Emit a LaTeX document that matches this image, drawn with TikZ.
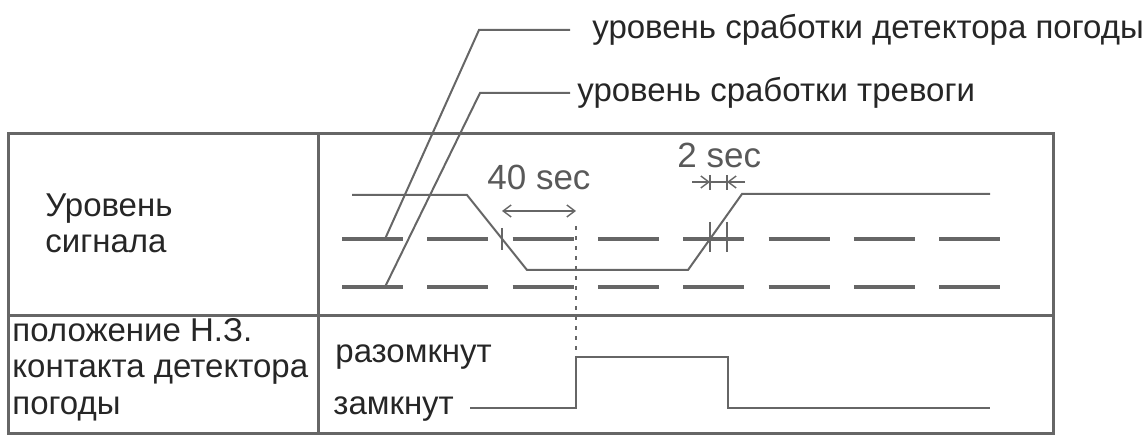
\documentclass[tikz,border=0pt]{standalone}
\usepackage{fontspec}
\setmainfont{Liberation Sans}
\usetikzlibrary{arrows.meta}

\begin{document}
\begin{tikzpicture}[x=0.5pt, y=-0.5pt,
    >={Straight Barb[length=4pt,width=6pt]},
    txt/.style={font=\fontsize{16.5}{19}\selectfont, text=black!85, inner sep=0pt, anchor=base west},
    sectxt/.style={font=\fontsize{17.5}{20}\selectfont, text=black!65, inner sep=0pt, anchor=base west},
    frame/.style={draw=black!60, line width=1.5pt},
    sig/.style={draw=black!60, line width=1pt, line join=miter},
    lvl/.style={draw=black!60, line width=2.2pt},
    tickln/.style={draw=black!60, line width=0.7pt},
    dotln/.style={draw=black!60, line width=0.8pt, dash pattern=on 2pt off 3pt},
    dimarr/.style={draw=black!60, line width=0.7pt}]

\useasboundingbox (0,0) rectangle (1142,437);

% --- Tabella ---
\draw[frame] (8,134) rectangle (1053,434);
\draw[frame] (8,316) -- (1053,316);
\draw[frame] (318,134) -- (318,434);

% --- Etichette dei livelli (in alto) ---
\node[txt, anchor=west] (lvlwd) at (592,30) {уровень сработки детектора погоды};
\node[txt, anchor=west] (lvlal) at (577,93) {уровень сработки тревоги};
\coordinate (wdend) at (385,239);
\coordinate (alend) at (385,287);
\draw[sig] ([xshift=-11pt]lvlwd.west) -- ++(-91,0) -- (wdend);
\draw[sig] ([xshift=-3.5pt]lvlal.west) -- ++(-90,0) -- (alend);

% --- Colonna sinistra ---
\node[txt] (sig1) at (45,217) {Уровень};
\node[txt] (sig2) at (45,253) {сигнала};
\node[txt] (pos1) at (12,342) {положение Н.З.};
\node[txt] (pos2) at (12,378) {контакта детектора};
\node[txt] (pos3) at (12,415) {погоды};

% --- Livelli tratteggiati ---
\foreach \i in {0,...,7} {
    \draw[lvl] (342+85.3*\i,239) -- ++(61,0);
    \draw[lvl] (342+85.3*\i,287) -- ++(61,0);
}

% Segnale
\draw[sig] (352,195) -- (467,195) -- (527,270) -- (688,270) -- (742,194) -- (990,194);

% Tacche
\draw[tickln] (502,228) -- (502,250);
\foreach \x in {710,727} {
    \draw[tickln] (\x,222) -- (\x,252);
    \draw[tickln] (\x,175) -- (\x,190);
}
\draw[dotln] (576,226) -- (576,357);

% --- Tempi ---
\node[sectxt] (t40) at (487,190) {40 sec};
\node[sectxt] (t2) at (677,168) {2 sec};
\coordinate (t40a) at (502,211);
\coordinate (t40b) at (576,211);
\draw[dimarr, <->] (t40a) -- (t40b);
\coordinate (t2a) at (710,182);
\coordinate (t2b) at (727,182);
\draw[dimarr, ->] (692,182) -- (t2a);
\draw[dimarr] (t2a) -- (t2b);
\draw[dimarr, ->] (745,182) -- (t2b);

% --- Contatto ---
\node[txt] (open) at (335,363) {разомкнут};
\node[txt] (closed) at (333,415) {замкнут};
\draw[sig] (470,408) -- (576,408) -- (576,357) -- (728,357) -- (728,408) -- (990,408);

\end{tikzpicture}
\end{document}
